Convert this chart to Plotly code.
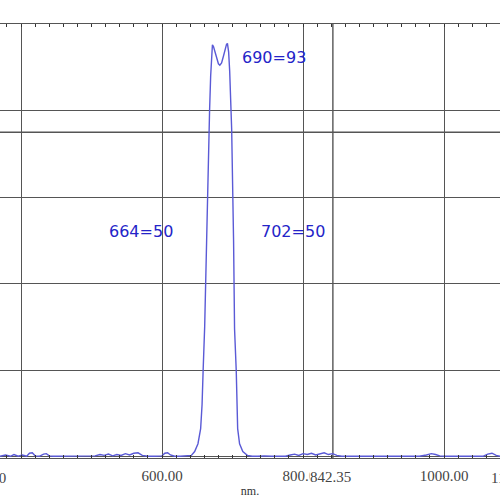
import plotly.graph_objects as go

# Spectre de transmission (nm -> %)
longueur_onde = [
    370, 378, 385, 390, 396, 402, 408, 412, 416, 420, 426, 432, 436, 440, 446,
    455, 465, 475, 485, 495, 505, 512, 518, 524, 530, 536, 542, 548, 554, 560,
    566, 572, 580, 590, 600, 604, 608, 612, 618, 626, 634,
    641.6, 646.3, 651.0, 654.8, 656.8, 658.3, 660.5, 663.3, 666.1, 667.5, 669.0,
    670.3, 671.5, 673.0, 675.0, 677.5, 680.0, 682.0, 684.5, 687.0, 689.5, 691.5,
    692.8, 694.5, 696.0, 697.5, 698.2, 698.8, 701.5, 702.9, 705.3, 706.0, 707.3,
    710.0, 714.6, 721.0,
    728, 736, 745, 755, 765, 775, 782, 788, 794, 800, 806, 812, 818, 824, 830,
    836, 842, 848, 855, 862, 875, 890, 905, 920, 935, 950, 965, 975, 982, 988,
    994, 1000, 1010, 1025, 1040, 1055, 1062, 1068, 1074, 1080,
]
transmission = [
    0.1, 0.4, 0.1, 0.5, 0.1, 0.4, 0.1, 0.8, 0.9, 0.2, 0.1, 0.6, 0.7, 0.2, 0.1,
    0.1, 0.2, 0.1, 0.1, 0.1, 0.2, 0.5, 0.3, 0.6, 0.2, 0.5, 0.3, 0.7, 0.4, 0.8,
    0.9, 0.3, 0.1, 0.1, 0.2, 0.8, 0.9, 0.4, 0.1, 0.1, 0.2,
    0.3, 1.2, 3.0, 6.5, 12.0, 19.8, 30.0, 50.0, 75.6, 80.2, 88.0,
    93.0, 95.2, 94.8, 93.5, 92.0, 90.8, 90.5, 91.0, 92.5, 94.3, 95.3,
    95.5, 93.5, 89.0, 83.0, 80.2, 75.6, 50.0, 29.5, 19.8, 14.0, 6.5,
    3.0, 1.2, 0.3,
    0.1, 0.1, 0.2, 0.1, 0.1, 0.1, 0.4, 0.6, 0.3, 0.7, 0.5, 0.8, 0.4, 0.6, 0.9,
    0.5, 0.7, 0.3, 0.1, 0.1, 0.1, 0.2, 0.1, 0.1, 0.1, 0.2, 0.1, 0.4, 0.7, 0.5,
    0.2, 0.1, 0.1, 0.1, 0.2, 0.1, 0.6, 0.8, 0.3, 0.1,
]

# Graduations de l'axe x
x_ticks = [400, 600, 800, 1000]
x_ticktext = ["", "600.00", "800.00", "1000.00"]
x_min, x_max = 370.2, 1079.4
bord_gauche, bord_droit = 350, 1100

# Repères et étiquettes
repere_nm = 842.35
repere_pct = 75
etiquettes = [
    ("690=93", 710, 92.2, "left"),
    ("664=50", 618, 52.1, "right"),
    ("702=50", 737, 52.1, "left"),
]

grille = "#555555"
bleu = "#2424c8"

fig = go.Figure()
fig.add_trace(go.Scatter(
    x=longueur_onde, y=transmission, mode="lines",
    line=dict(color="#5a5ad6", width=1.4), hoverinfo="skip",
))

for texte, xv, yv, ancre in etiquettes:
    fig.add_annotation(x=xv, y=yv, text=texte, showarrow=False, xanchor=ancre,
                       yanchor="middle", font=dict(family="DejaVu Sans", size=16, color=bleu))

# lignes repères
fig.add_shape(type="line", xref="x", yref="paper", x0=repere_nm, x1=repere_nm, y0=0, y1=1,
              line=dict(color=grille, width=1.4), layer="below")
fig.add_shape(type="line", xref="paper", yref="y", x0=0, x1=1, y0=repere_pct, y1=repere_pct,
              line=dict(color=grille, width=1.4), layer="below")

police_axe = dict(family="Liberation Serif", size=15, color="#444444")
fig.add_annotation(x=repere_nm, xref="x", y=0, yref="paper", yanchor="top", yshift=-10, xshift=-2,
                   xanchor="center", text="842.35", showarrow=False, bgcolor="white", borderpad=0,
                   font=police_axe)
# étiquettes des bords (coupées par le cadre)
for v in (bord_gauche, bord_droit):
    fig.add_annotation(x=(v - x_min) / (x_max - x_min), xref="paper", y=0, yref="paper",
                       xanchor="center", yanchor="top", yshift=-10, text=f"{v:.2f}",
                       showarrow=False, font=police_axe)

fig.update_xaxes(
    range=[x_min, x_max], tickvals=x_ticks, ticktext=x_ticktext,
    showgrid=True, gridcolor=grille, gridwidth=1.4, zeroline=False,
    showline=True, linecolor=grille, linewidth=1.4, mirror="allticks",
    ticks="inside", ticklen=3, tickcolor="#333333", ticklabelstandoff=4,
    minor=dict(dtick=20, tick0=0, ticks="inside", ticklen=3, tickcolor="#333333", showgrid=False),
    tickfont=police_axe, automargin=False,
    title=dict(text="nm.", font=dict(family="Liberation Serif", size=12, color="#333333"), standoff=3),
)
fig.update_yaxes(
    range=[-0.3, 100], dtick=20, tick0=0, showgrid=True, gridcolor=grille, gridwidth=1.4,
    zeroline=False, showline=False, showticklabels=False, ticks="", automargin=False,
)
fig.update_layout(
    template="none", width=500, height=500, showlegend=False,
    margin=dict(l=0, r=0, t=24, b=42), paper_bgcolor="white", plot_bgcolor="white",
)

fig.write_html("out.html", config={"displayModeBar": False},
               post_script="document.body.style.margin='0';")
